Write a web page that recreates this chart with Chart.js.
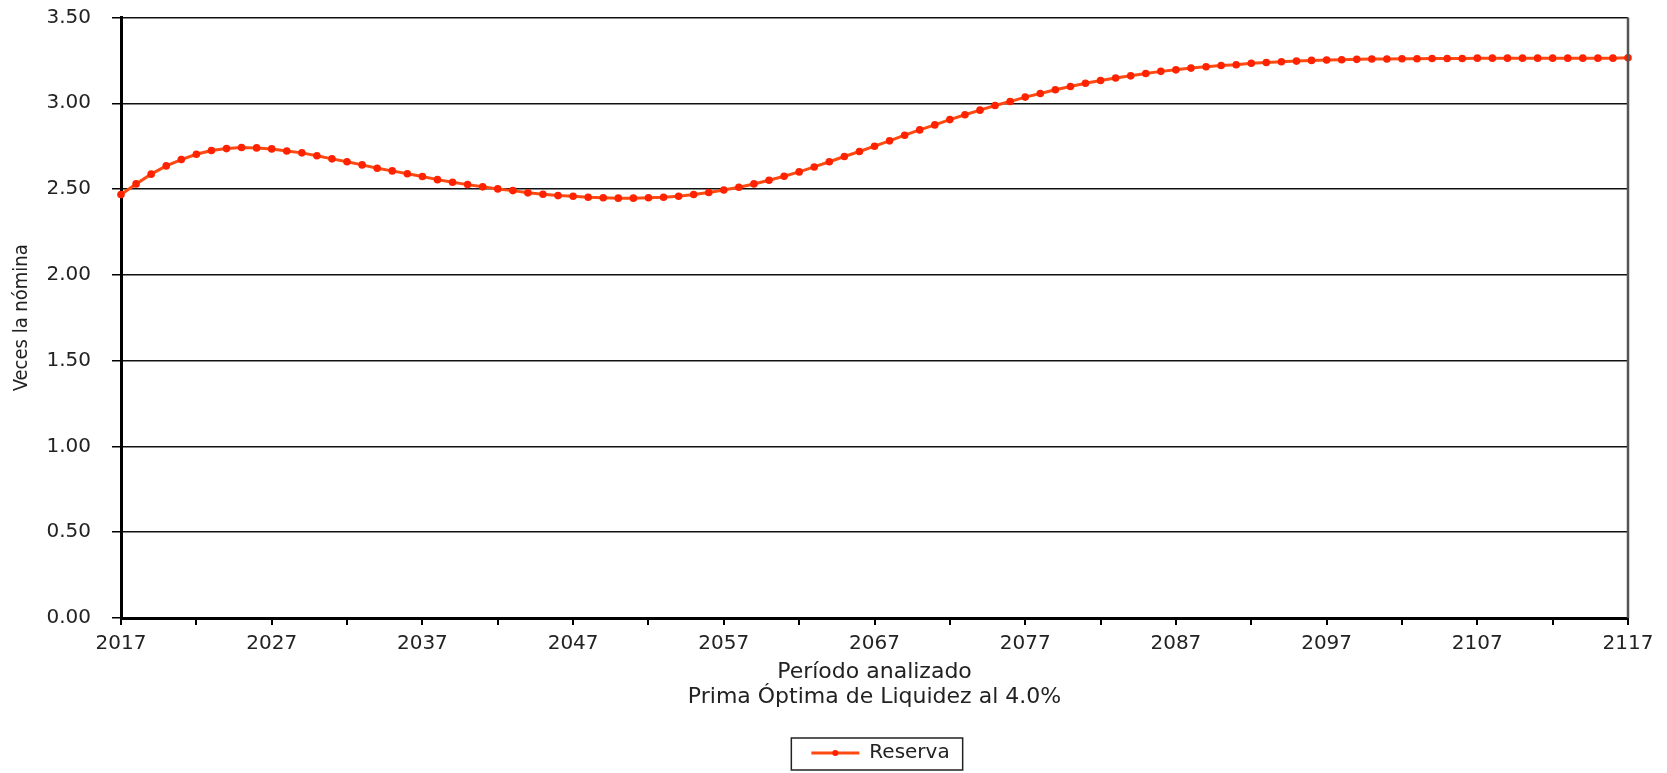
<!DOCTYPE html>
<html>
<head>
<meta charset="utf-8">
<script src="https://cdn.jsdelivr.net/npm/chart.js@4.4.0/dist/chart.umd.min.js"></script>
<style>
  body { margin: 0; background: #fff; }
  #wrap { width: 1667px; height: 773px; }
</style>
</head>
<body>
<div id="wrap"><canvas id="myChart" width="1667" height="773"></canvas></div>
<script>
// Años del período analizado
let anios = [];
for (let a = 2017; a <= 2117; a++) anios.push(a);

// Reserva (veces la nómina)
let reserva = [
  2.468, 2.530, 2.587, 2.635, 2.672, 2.703, 2.725, 2.736, 2.742, 2.740,
  2.734, 2.722, 2.711, 2.694, 2.676, 2.659, 2.641, 2.621, 2.606, 2.589,
  2.573, 2.555, 2.540, 2.526, 2.513, 2.501, 2.491, 2.478, 2.470, 2.462,
  2.458, 2.452, 2.449, 2.447, 2.447, 2.449, 2.452, 2.458, 2.468, 2.480,
  2.495, 2.511, 2.530, 2.551, 2.575, 2.600, 2.629, 2.659, 2.690, 2.719,
  2.750, 2.781, 2.814, 2.845, 2.874, 2.905, 2.933, 2.960, 2.987, 3.010,
  3.036, 3.057, 3.079, 3.098, 3.117, 3.133, 3.147, 3.160, 3.174, 3.186,
  3.195, 3.205, 3.213, 3.220, 3.225, 3.233, 3.238, 3.242, 3.246, 3.250,
  3.252, 3.254, 3.256, 3.258, 3.258, 3.260, 3.260, 3.261, 3.261, 3.261,
  3.263, 3.263, 3.263, 3.263, 3.263, 3.263, 3.263, 3.263, 3.263, 3.263,
  3.265
];

let tituloX = ['Período analizado', 'Prima Óptima de Liquidez al 4.0%'];
let tituloY = 'Veces la nómina';

let fuenteAncha = "'DejaVu Sans', Verdana, sans-serif";
let fuenteAngosta = "'Liberation Sans Narrow', 'DejaVu Sans Condensed', 'Liberation Sans', sans-serif";

let colorLinea = '#ff4a12';
let colorPunto = '#ff2200';

// Centra la leyenda bajo el área del gráfico, dibuja el borde derecho y el recuadro
const decoraciones = {
  id: 'decoraciones',
  afterLayout(chart) {
    const leyenda = chart.legend;
    const area = chart.chartArea;
    const dx = (area.left + area.right) / 2 + 6 - (leyenda.left + leyenda.right) / 2;
    leyenda.left += dx;
    leyenda.right += dx;
  },
  afterDraw(chart) {
    const ctx = chart.ctx;
    const area = chart.chartArea;
    ctx.save();
    ctx.strokeStyle = '#555';
    ctx.lineWidth = 2.5;
    ctx.beginPath();
    ctx.moveTo(area.right, area.top);
    ctx.lineTo(area.right, area.bottom);
    ctx.stroke();

    const caja = chart.legend.legendHitBoxes[0];
    if (caja) {
      const cy = caja.top + caja.height / 2 + 1;
      ctx.strokeStyle = '#222';
      ctx.lineWidth = 1.5;
      ctx.strokeRect(caja.left - 20, cy - 16, caja.width + 33, 32);
      ctx.fillStyle = colorPunto;
      ctx.beginPath();
      ctx.arc(caja.left + 24, cy - 1, 3, 0, Math.PI * 2);
      ctx.fill();
    }
    ctx.restore();
  }
};

let ctx = document.getElementById('myChart').getContext('2d');

let myChart = new Chart(ctx, {
  type: 'line',
  data: {
    datasets: [{
      label: 'Reserva',
      data: anios.map((a, i) => ({ x: a, y: reserva[i] })),
      borderColor: colorLinea,
      backgroundColor: colorLinea,
      borderWidth: 3,
      pointRadius: 3.8,
      pointBackgroundColor: colorPunto,
      pointBorderWidth: 0,
      tension: 0,
      clip: false
    }]
  },
  options: {
    responsive: false,
    animation: false,
    layout: { padding: { left: 0, right: 39, top: 0, bottom: 0 } },
    plugins: {
      tooltip: { enabled: false },
      legend: {
        position: 'bottom',
        labels: {
          usePointStyle: true,
          pointStyleWidth: 48,
          padding: 10,
          color: '#222',
          font: { family: fuenteAncha, size: 20 },
          generateLabels: chart => chart.data.datasets.map((ds, i) => ({
            text: ds.label,
            datasetIndex: i,
            pointStyle: 'line',
            strokeStyle: ds.borderColor,
            fillStyle: ds.borderColor,
            lineWidth: ds.borderWidth,
            fontColor: '#222',
            hidden: false
          }))
        }
      }
    },
    scales: {
      x: {
        type: 'linear',
        min: 2017,
        max: 2117,
        afterFit: s => { s.height = 115; },
        ticks: {
          stepSize: 5,
          autoSkip: false,
          maxRotation: 0,
          padding: 7,
          color: '#222',
          font: { family: fuenteAncha, size: 20 },
          callback: v => ((v - 2017) % 10 === 0 ? String(v) : '')
        },
        grid: {
          drawOnChartArea: false,
          drawTicks: true,
          tickLength: 7,
          color: '#000',
          lineWidth: 2
        },
        border: { display: true, color: '#000', width: 3 },
        title: {
          display: true,
          text: tituloX,
          color: '#222',
          font: { family: fuenteAncha, size: 22, lineHeight: 1.1 },
          padding: { top: 4, bottom: 24 }
        }
      },
      y: {
        min: 0,
        max: 3.5,
        afterFit: s => { s.width = 121; s.paddingTop = 17.5; s.paddingBottom = 12; },
        ticks: {
          stepSize: 0.5,
          padding: 21,
          color: '#222',
          font: { family: fuenteAncha, size: 20 },
          callback: v => v.toFixed(2)
        },
        grid: {
          color: '#111',
          lineWidth: 1.5,
          tickLength: 9,
          tickColor: '#000'
        },
        border: { display: true, color: '#000', width: 3 },
        title: {
          display: true,
          text: tituloY,
          color: '#222',
          font: { family: fuenteAngosta, size: 20 },
          padding: { top: 10, bottom: 0 }
        }
      }
    }
  },
  plugins: [decoraciones]
});
</script>
</body>
</html>
